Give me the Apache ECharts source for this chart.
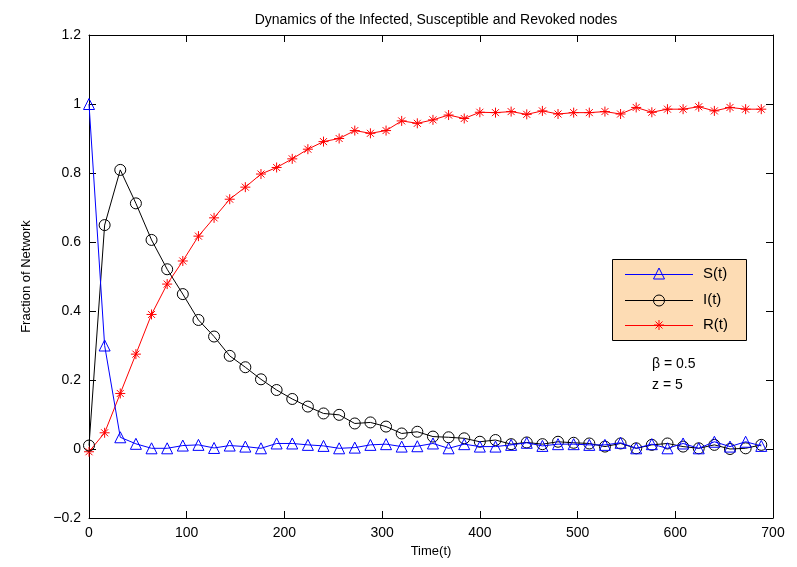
<!DOCTYPE html>
<html style="height: 100%">

<head>
  <meta charset="utf-8">
</head>

<body style="height: 100%; margin: 0; background: #fff">
  <div id="container" style="width: 797px; height: 567px"></div>
  <script type="text/javascript" src="https://cdn.jsdelivr.net/npm/echarts@6/dist/echarts.min.js"></script>
  <script type="text/javascript">
    // time steps
    var tValues = [0, 16, 32, 48, 64, 80, 96, 112, 128, 144, 160, 176, 192, 208, 224, 240, 256, 272, 288, 304, 320, 336,
      352, 368, 384, 400, 416, 432, 448, 464, 480, 496, 512, 528, 544, 560, 576, 592, 608, 624, 640, 656, 672, 688];

    // S(t) susceptible
    var sValues = [1.0, 0.30, 0.034, 0.015, 0.002, 0.002, 0.010, 0.012, 0.003, 0.010, 0.007, 0.002, 0.016, 0.016, 0.012,
      0.009, 0.002, 0.004, 0.012, 0.014, 0.007, 0.008, 0.016, 0.002, 0.014, 0.007, 0.007, 0.012, 0.018, 0.009, 0.014,
      0.014, 0.012, 0.012, 0.018, 0.002, 0.014, 0.002, 0.016, 0.002, 0.021, 0.007, 0.021, 0.009];

    // I(t) infected
    var iValues = [0.010, 0.649, 0.809, 0.712, 0.606, 0.521, 0.449, 0.374, 0.326, 0.270, 0.237, 0.202, 0.171, 0.145, 0.123,
      0.103, 0.099, 0.074, 0.077, 0.065, 0.045, 0.050, 0.036, 0.034, 0.031, 0.021, 0.026, 0.014, 0.019, 0.014, 0.021,
      0.018, 0.016, 0.007, 0.016, 0.002, 0.012, 0.016, 0.007, 0.002, 0.012, 0.000, 0.002, 0.012];

    // R(t) revoked
    var rValues = [-0.008, 0.047, 0.161, 0.275, 0.390, 0.478, 0.545, 0.617, 0.670, 0.724, 0.759, 0.797, 0.816, 0.841, 0.869,
      0.891, 0.900, 0.923, 0.915, 0.923, 0.951, 0.944, 0.954, 0.968, 0.958, 0.976, 0.975, 0.978, 0.970, 0.980, 0.971,
      0.975, 0.975, 0.978, 0.971, 0.990, 0.976, 0.985, 0.985, 0.992, 0.980, 0.990, 0.985, 0.985];

    var seriesNames = ['S(t)', 'I(t)', 'R(t)'];
    var seriesColors = ['#0000ff', '#000000', '#ff0000'];

    function pairs(vals) {
      return tValues.map(function (t, k) { return [t, vals[k]]; });
    }

    var font = 'Liberation Sans, Arial, Helvetica, sans-serif';
    var starPath = 'path://M5,0L5,10M0,5L10,5M1.5,1.5L8.5,8.5M8.5,1.5L1.5,8.5';

    var dom = document.getElementById("container");
    var myChart = echarts.init(dom);

    var tickStyle = { inside: true, length: 7, lineStyle: { color: '#000', width: 1 } };
    var lineAx = { show: true, onZero: false, lineStyle: { color: '#000', width: 1 } };
    var lbl = { color: '#000', fontSize: 14, fontFamily: font };

    function mkSeries(k, vals, symbol, size, z) {
      return {
        name: seriesNames[k],
        type: 'line',
        color: seriesColors[k],
        data: pairs(vals),
        symbol: symbol,
        symbolSize: size,
        showAllSymbol: true,
        lineStyle: { color: seriesColors[k], width: 1 },
        itemStyle: { color: 'rgba(0,0,0,0)', borderColor: seriesColors[k], borderWidth: 1 },
        z: z
      };
    }

    // legend box drawn by hand (MATLAB style)
    var legendBox = { x: 612, y: 259, w: 134, h: 81 };
    var legendRows = [274, 300, 325];
    var legendEls = [{
      type: 'rect', z: 10,
      shape: { x: legendBox.x + 0.5, y: legendBox.y + 0.5, width: legendBox.w, height: legendBox.h },
      style: { fill: '#fddcb4', stroke: '#000', lineWidth: 1 }
    }];
    seriesNames.forEach(function (n, k) {
      var y = legendRows[k] + 0.5;
      legendEls.push({
        type: 'line', z: 11,
        shape: { x1: 625, y1: y, x2: 693, y2: y },
        style: { stroke: seriesColors[k], lineWidth: 1 }
      });
      legendEls.push({
        type: 'text', z: 11, left: 703, top: legendRows[k] - 8,
        style: { text: n, fill: '#000', font: '15px ' + font }
      });
    });
    legendEls.push({
      type: 'polygon', z: 12,
      shape: { points: [[659, legendRows[0] - 6], [653.5, legendRows[0] + 5], [664.5, legendRows[0] + 5]] },
      style: { fill: 'none', stroke: seriesColors[0], lineWidth: 1 }
    });
    legendEls.push({
      type: 'circle', z: 12,
      shape: { cx: 659, cy: legendRows[1] + 0.5, r: 5.5 },
      style: { fill: 'none', stroke: seriesColors[1], lineWidth: 1 }
    });
    legendEls.push({
      type: 'polyline', z: 12,
      shape: { points: [[659, legendRows[2] - 5], [659, legendRows[2] + 5]] },
      style: { stroke: seriesColors[2], lineWidth: 1 }
    });
    legendEls.push({
      type: 'polyline', z: 12,
      shape: { points: [[654, legendRows[2]], [664, legendRows[2]]] },
      style: { stroke: seriesColors[2], lineWidth: 1 }
    });
    legendEls.push({
      type: 'polyline', z: 12,
      shape: { points: [[655.5, legendRows[2] - 3.5], [662.5, legendRows[2] + 3.5]] },
      style: { stroke: seriesColors[2], lineWidth: 1 }
    });
    legendEls.push({
      type: 'polyline', z: 12,
      shape: { points: [[662.5, legendRows[2] - 3.5], [655.5, legendRows[2] + 3.5]] },
      style: { stroke: seriesColors[2], lineWidth: 1 }
    });

    var option = {
      animation: false,
      backgroundColor: '#fff',
      title: {
        text: 'Dynamics of the Infected, Susceptible and Revoked nodes',
        left: 431,
        top: 8,
        textAlign: 'center',
        textStyle: { color: '#000', fontSize: 14, fontWeight: 'normal', fontFamily: font }
      },
      grid: { left: 89, right: 24, top: 35, bottom: 49 },
      xAxis: [{
        type: 'value',
        min: 0, max: 700, interval: 100,
        name: 'Time(t)',
        nameLocation: 'middle',
        nameGap: 26,
        nameTextStyle: { color: '#000', fontSize: 13, fontFamily: font },
        axisLine: lineAx,
        axisTick: tickStyle,
        axisLabel: lbl,
        splitLine: { show: false }
      }, {
        type: 'value',
        position: 'top',
        min: 0, max: 700, interval: 100,
        axisLine: lineAx,
        axisTick: tickStyle,
        axisLabel: { show: false },
        splitLine: { show: false }
      }],
      yAxis: [{
        type: 'value',
        min: -0.2, max: 1.2, interval: 0.2,
        name: 'Fraction of Network',
        nameLocation: 'middle',
        nameGap: 56,
        nameTextStyle: { color: '#000', fontSize: 13, fontFamily: font },
        axisLine: lineAx,
        axisTick: tickStyle,
        axisLabel: Object.assign({
          margin: 8,
          formatter: function (v) {
            var s = String(Math.round(v * 10) / 10);
            return s.replace('-', '\u2212');
          }
        }, lbl),
        splitLine: { show: false }
      }, {
        type: 'value',
        position: 'right',
        min: -0.2, max: 1.2, interval: 0.2,
        axisLine: lineAx,
        axisTick: tickStyle,
        axisLabel: { show: false },
        splitLine: { show: false }
      }],
      graphic: legendEls.concat([{
        type: 'text', left: 652, top: 357,
        style: { text: '\u03b2 = 0.5', fill: '#000', font: '14px ' + font }
      }, {
        type: 'text', left: 652, top: 378,
        style: { text: 'z = 5', fill: '#000', font: '14px ' + font }
      }]),
      series: [
        mkSeries(0, sValues, 'triangle', 11, 3),
        mkSeries(1, iValues, 'circle', 11, 2),
        mkSeries(2, rValues, starPath, 10, 1)
      ]
    };
    myChart.setOption(option, true);
  </script>
</body>

</html>
